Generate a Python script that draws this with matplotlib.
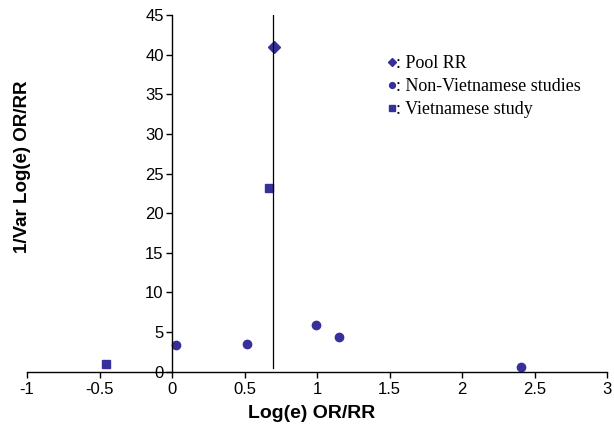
import matplotlib
matplotlib.use('Agg')
import matplotlib.pyplot as plt

# Données (funnel plot)
pool_x = [0.70]
pool_y = [40.9]
non_viet_x = [0.03, 0.52, 0.99, 1.15, 2.41]
non_viet_y = [3.40, 3.53, 5.89, 4.38, 0.55]
viet_x = [-0.455, 0.67]
viet_y = [0.97, 23.2]
pool_line_x = 0.695

x_ticks = [-1, -0.5, 0, 0.5, 1, 1.5, 2, 2.5, 3]
x_labels = ['-1', '-0.5', '0', '0.5', '1', '1.5', '2', '2.5', '3']
y_ticks = [0, 5, 10, 15, 20, 25, 30, 35, 40, 45]

COLOR = '#37309a'

plt.rcParams['font.family'] = ['Liberation Sans', 'DejaVu Sans']

fig = plt.figure(figsize=(6.14, 4.33), dpi=100)
ax = fig.add_axes([0.044, 0.1416, 0.9446, 0.8238])

ax.plot(pool_x, pool_y, linestyle='none', marker='D', markersize=6.3,
        color=COLOR, label=': Pool RR')
ax.plot(non_viet_x, non_viet_y, linestyle='none', marker='o', markersize=6,
        color=COLOR, label=': Non-Vietnamese studies')
ax.plot(viet_x, viet_y, linestyle='none', marker='s', markersize=6,
        color=COLOR, label=': Vietnamese study')

# ligne verticale du RR poolé
ax.plot([pool_line_x, pool_line_x], [0.5, 45], color='black', linewidth=0.9)

ax.set_xlim(-1, 3)
ax.set_ylim(0, 45)

# axes croisés en (0, 0)
ax.spines['left'].set_position(('data', 0))
ax.spines['bottom'].set_position(('data', 0))
ax.spines['top'].set_visible(False)
ax.spines['right'].set_visible(False)
for s in ('left', 'bottom'):
    ax.spines[s].set_linewidth(1)

ax.set_xticks(x_ticks)
ax.set_xticklabels(x_labels)
ax.set_yticks(y_ticks)
ax.tick_params(axis='both', direction='out', length=4, width=1, labelsize=12)
ax.tick_params(axis='y', pad=2)

fig.text(0.036, 0.615, '1/Var Log(e) OR/RR', rotation=90, ha='center', va='center',
         fontsize=13.5, fontweight='bold')
fig.text(0.507, 0.044, 'Log(e) OR/RR', ha='center', va='center',
         fontsize=14, fontweight='bold')

leg = ax.legend(loc='upper left', bbox_to_anchor=(0.609, 0.908), frameon=False,
                handlelength=0.5, handletextpad=0.0, labelspacing=0.33,
                markerscale=0.7, borderaxespad=0,
                prop={'family': 'Liberation Serif', 'size': 13})

fig.savefig('out.png', dpi=100)
